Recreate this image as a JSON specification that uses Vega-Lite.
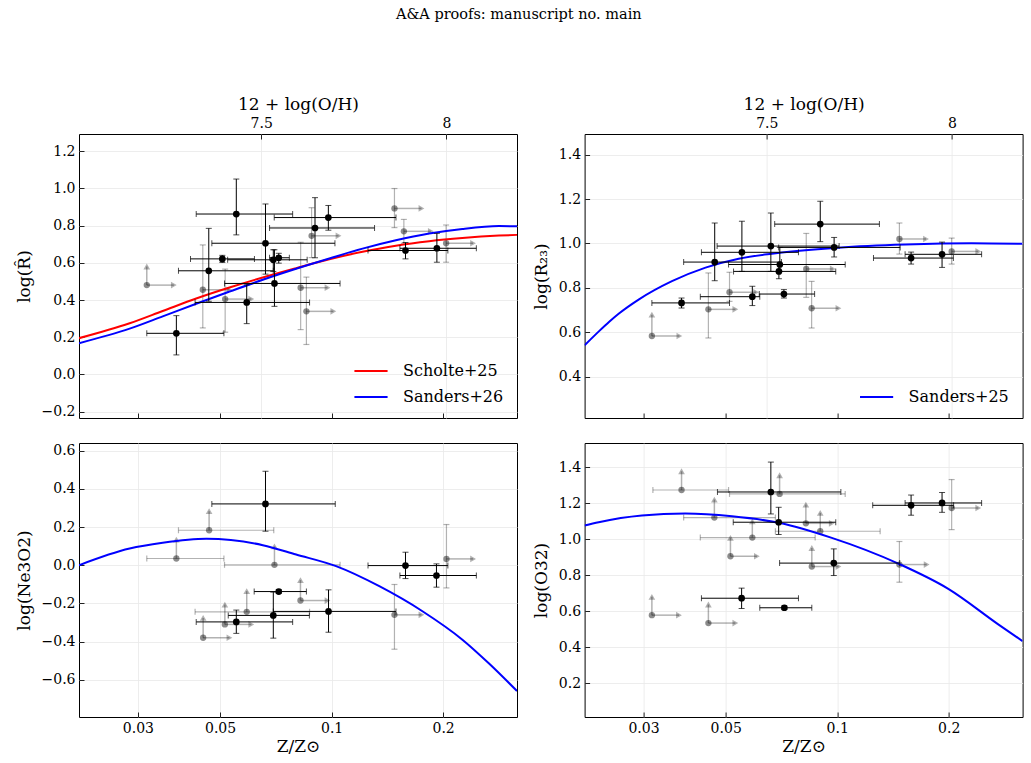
{
  "$schema": "https://vega.github.io/schema/vega-lite/v6.json",
  "background": "white",
  "padding": {"left": 14, "right": 5, "top": 7, "bottom": 5},
  "title": {"text": "A&A proofs: manuscript no. main", "font": "DejaVu Serif", "fontSize": 14.5, "fontWeight": "normal", "anchor": "middle", "offset": 72, "color": "#000"},
  "datasets": {
    "pts": [
      {"p":"R","t":"d","z":0.0553,"v":0.862,"zlo":0.0431,"zhi":0.0785,"vlo":0.750,"vhi":1.050},
      {"p":"R","t":"d","z":0.0663,"v":0.705,"zlo":0.0475,"zhi":0.1021,"vlo":0.539,"vhi":0.916},
      {"p":"R","t":"d","z":0.0902,"v":0.787,"zlo":0.0680,"zhi":0.1306,"vlo":0.627,"vhi":0.950},
      {"p":"R","t":"d","z":0.0980,"v":0.843,"zlo":0.0700,"zhi":0.1492,"vlo":0.775,"vhi":0.908},
      {"p":"R","t":"d","z":0.0507,"v":0.621,"zlo":0.0416,"zhi":0.0619,"vlo":0.602,"vhi":0.640},
      {"p":"R","t":"d","z":0.0696,"v":0.616,"zlo":0.0524,"zhi":0.0859,"vlo":0.553,"vhi":0.670},
      {"p":"R","t":"d","z":0.0720,"v":0.627,"zlo":0.0680,"zhi":0.0769,"vlo":0.598,"vhi":0.651},
      {"p":"R","t":"d","z":0.0466,"v":0.557,"zlo":0.0386,"zhi":0.0696,"vlo":0.393,"vhi":0.785},
      {"p":"R","t":"d","z":0.0701,"v":0.489,"zlo":0.0514,"zhi":0.1054,"vlo":0.366,"vhi":0.670},
      {"p":"R","t":"d","z":0.0590,"v":0.387,"zlo":0.0428,"zhi":0.0872,"vlo":0.273,"vhi":0.482},
      {"p":"R","t":"d","z":0.0381,"v":0.221,"zlo":0.0317,"zhi":0.0512,"vlo":0.105,"vhi":0.316},
      {"p":"R","t":"d","z":0.1583,"v":0.666,"zlo":0.1254,"zhi":0.2060,"vlo":0.621,"vhi":0.709},
      {"p":"R","t":"d","z":0.1924,"v":0.678,"zlo":0.1529,"zhi":0.2459,"vlo":0.603,"vhi":0.758},
      {"p":"R","t":"l","z":0.0317,"v":0.480,"za":0.0375,"va":0.580},
      {"p":"R","t":"l","z":0.0449,"v":0.455,"vlo":0.250,"vhi":0.696,"za":0.0530},
      {"p":"R","t":"l","z":0.0516,"v":0.405,"vlo":0.227,"vhi":0.566,"za":0.0607},
      {"p":"R","t":"l","z":0.0825,"v":0.466,"vlo":0.241,"vhi":0.710,"za":0.0975},
      {"p":"R","t":"l","z":0.0855,"v":0.339,"vlo":0.161,"vhi":0.523,"za":0.1011},
      {"p":"R","t":"l","z":0.0883,"v":0.745,"vlo":0.628,"vhi":0.896,"za":0.1044},
      {"p":"R","t":"l","z":0.1478,"v":0.892,"vlo":0.789,"vhi":0.999,"za":0.1748},
      {"p":"R","t":"l","z":0.1567,"v":0.769,"vlo":0.705,"vhi":0.833,"za":0.1853},
      {"p":"R","t":"l","z":0.2038,"v":0.705,"vlo":0.603,"vhi":0.803,"za":0.2410},

      {"p":"R23","t":"d","z":0.0380,"v":0.732,"zlo":0.0316,"zhi":0.0512,"vlo":0.709,"vhi":0.754},
      {"p":"R23","t":"d","z":0.0467,"v":0.916,"zlo":0.0385,"zhi":0.0707,"vlo":0.832,"vhi":1.092},
      {"p":"R23","t":"d","z":0.0553,"v":0.960,"zlo":0.0430,"zhi":0.0786,"vlo":0.874,"vhi":1.100},
      {"p":"R23","t":"d","z":0.0662,"v":0.988,"zlo":0.0474,"zhi":0.1012,"vlo":0.874,"vhi":1.137},
      {"p":"R23","t":"d","z":0.0900,"v":1.087,"zlo":0.0678,"zhi":0.1300,"vlo":1.008,"vhi":1.190},
      {"p":"R23","t":"d","z":0.0981,"v":0.982,"zlo":0.0695,"zhi":0.1479,"vlo":0.939,"vhi":1.027},
      {"p":"R23","t":"d","z":0.0700,"v":0.905,"zlo":0.0509,"zhi":0.1051,"vlo":0.874,"vhi":0.982},
      {"p":"R23","t":"d","z":0.0696,"v":0.874,"zlo":0.0525,"zhi":0.0991,"vlo":0.841,"vhi":0.905},
      {"p":"R23","t":"d","z":0.0590,"v":0.760,"zlo":0.0427,"zhi":0.0618,"vlo":0.720,"vhi":0.807},
      {"p":"R23","t":"d","z":0.0718,"v":0.772,"zlo":0.0616,"zhi":0.0869,"vlo":0.754,"vhi":0.792},
      {"p":"R23","t":"d","z":0.1583,"v":0.934,"zlo":0.1253,"zhi":0.2059,"vlo":0.907,"vhi":0.961},
      {"p":"R23","t":"d","z":0.1919,"v":0.951,"zlo":0.1525,"zhi":0.2454,"vlo":0.892,"vhi":1.006},
      {"p":"R23","t":"l","z":0.0316,"v":0.583,"za":0.0375,"va":0.679},
      {"p":"R23","t":"l","z":0.0449,"v":0.703,"vlo":0.574,"vhi":0.867,"za":0.0531},
      {"p":"R23","t":"l","z":0.0512,"v":0.780,"vlo":0.739,"vhi":0.870,"za":0.0604},
      {"p":"R23","t":"l","z":0.0825,"v":0.885,"vlo":0.757,"vhi":1.045,"za":0.0973},
      {"p":"R23","t":"l","z":0.0853,"v":0.708,"vlo":0.619,"vhi":0.829,"za":0.1008},
      {"p":"R23","t":"l","z":0.1472,"v":1.020,"vlo":0.952,"vhi":1.092,"za":0.1737},
      {"p":"R23","t":"l","z":0.2037,"v":0.964,"vlo":0.907,"vhi":1.024,"za":0.2404},

      {"p":"Ne","t":"d","z":0.0663,"v":0.321,"zlo":0.0475,"zhi":0.1023,"vlo":0.178,"vhi":0.492},
      {"p":"Ne","t":"d","z":0.1583,"v":-0.002,"zlo":0.1254,"zhi":0.2060,"vlo":-0.070,"vhi":0.068},
      {"p":"Ne","t":"d","z":0.1919,"v":-0.054,"zlo":0.1529,"zhi":0.2459,"vlo":-0.115,"vhi":0.007},
      {"p":"Ne","t":"d","z":0.0720,"v":-0.138,"zlo":0.0618,"zhi":0.0855,"vlo":-0.148,"vhi":-0.128},
      {"p":"Ne","t":"d","z":0.0981,"v":-0.242,"zlo":0.0696,"zhi":0.1492,"vlo":-0.351,"vhi":-0.129},
      {"p":"Ne","t":"d","z":0.0696,"v":-0.263,"zlo":0.0526,"zhi":0.0871,"vlo":-0.382,"vhi":-0.141},
      {"p":"Ne","t":"d","z":0.0553,"v":-0.297,"zlo":0.0431,"zhi":0.0785,"vlo":-0.357,"vhi":-0.235},
      {"p":"Ne","t":"l","z":0.0467,"v":0.183,"zlo":0.0386,"zhi":0.0698,"va":0.283},
      {"p":"Ne","t":"l","z":0.0381,"v":0.035,"zlo":0.0317,"zhi":0.0512,"va":0.134},
      {"p":"Ne","t":"l","z":0.0701,"v":0.002,"zlo":0.0514,"zhi":0.1054,"va":0.099},
      {"p":"Ne","t":"l","z":0.0824,"v":-0.185,"za":0.0975,"va":-0.078},
      {"p":"Ne","t":"l","z":0.0590,"v":-0.244,"zlo":0.0428,"zhi":0.0872,"va":-0.136},
      {"p":"Ne","t":"l","z":0.0515,"v":-0.310,"za":0.0607,"va":-0.206},
      {"p":"Ne","t":"l","z":0.0450,"v":-0.380,"za":0.0530,"va":-0.276},
      {"p":"Ne","t":"l","z":0.1478,"v":-0.260,"vlo":-0.440,"vhi":-0.101,"za":0.1748},
      {"p":"Ne","t":"l","z":0.2042,"v":0.033,"vlo":-0.119,"vhi":0.213,"za":0.2410},

      {"p":"O32","t":"d","z":0.0662,"v":1.263,"zlo":0.0475,"zhi":0.1023,"vlo":1.141,"vhi":1.429},
      {"p":"O32","t":"d","z":0.0695,"v":1.095,"zlo":0.0524,"zhi":0.0991,"vlo":1.027,"vhi":1.178},
      {"p":"O32","t":"d","z":0.0979,"v":0.868,"zlo":0.0699,"zhi":0.1475,"vlo":0.799,"vhi":0.947},
      {"p":"O32","t":"d","z":0.1583,"v":1.189,"zlo":0.1247,"zhi":0.2062,"vlo":1.134,"vhi":1.246},
      {"p":"O32","t":"d","z":0.1919,"v":1.202,"zlo":0.1525,"zhi":0.2454,"vlo":1.150,"vhi":1.260},
      {"p":"O32","t":"d","z":0.0552,"v":0.673,"zlo":0.0430,"zhi":0.0786,"vlo":0.616,"vhi":0.729},
      {"p":"O32","t":"d","z":0.0720,"v":0.620,"zlo":0.0618,"zhi":0.0854,"vlo":0.610,"vhi":0.630},
      {"p":"O32","t":"l","z":0.0380,"v":1.274,"zlo":0.0318,"zhi":0.0509,"va":1.378},
      {"p":"O32","t":"l","z":0.0699,"v":1.252,"zlo":0.0512,"zhi":0.1051,"va":1.356},
      {"p":"O32","t":"l","z":0.0466,"v":1.121,"zlo":0.0385,"zhi":0.0681,"va":1.221},
      {"p":"O32","t":"l","z":0.0590,"v":1.010,"zlo":0.0427,"zhi":0.0872,"va":1.100},
      {"p":"O32","t":"l","z":0.0515,"v":0.906,"za":0.0607,"va":1.008},
      {"p":"O32","t":"l","z":0.0823,"v":1.089,"za":0.0967,"va":1.193},
      {"p":"O32","t":"l","z":0.0900,"v":1.045,"zlo":0.0681,"zhi":0.1306,"va":1.147},
      {"p":"O32","t":"l","z":0.0854,"v":0.849,"za":0.1008,"va":0.952},
      {"p":"O32","t":"l","z":0.1472,"v":0.860,"vlo":0.762,"vhi":0.988,"za":0.1744},
      {"p":"O32","t":"l","z":0.2037,"v":1.174,"vlo":1.054,"vhi":1.332,"za":0.2404},
      {"p":"O32","t":"l","z":0.0316,"v":0.579,"za":0.0374,"va":0.681},
      {"p":"O32","t":"l","z":0.0449,"v":0.535,"za":0.0531,"va":0.638}
    ],
    "curves": [
      {"p":"R","m":"Scholte+25","z":0.0208,"v":0.195},
      {"p":"R","m":"Scholte+25","z":0.0285,"v":0.275},
      {"p":"R","m":"Scholte+25","z":0.0350,"v":0.341},
      {"p":"R","m":"Scholte+25","z":0.0431,"v":0.408},
      {"p":"R","m":"Scholte+25","z":0.0530,"v":0.467},
      {"p":"R","m":"Scholte+25","z":0.0652,"v":0.521},
      {"p":"R","m":"Scholte+25","z":0.0802,"v":0.571},
      {"p":"R","m":"Scholte+25","z":0.0986,"v":0.619},
      {"p":"R","m":"Scholte+25","z":0.1212,"v":0.659},
      {"p":"R","m":"Scholte+25","z":0.1491,"v":0.692},
      {"p":"R","m":"Scholte+25","z":0.1834,"v":0.716},
      {"p":"R","m":"Scholte+25","z":0.2254,"v":0.733},
      {"p":"R","m":"Scholte+25","z":0.2831,"v":0.746},
      {"p":"R","m":"Scholte+25","z":0.3166,"v":0.750},
      {"p":"R","m":"Sanders+26","z":0.0208,"v":0.168},
      {"p":"R","m":"Sanders+26","z":0.0285,"v":0.246},
      {"p":"R","m":"Sanders+26","z":0.0350,"v":0.312},
      {"p":"R","m":"Sanders+26","z":0.0431,"v":0.380},
      {"p":"R","m":"Sanders+26","z":0.0530,"v":0.445},
      {"p":"R","m":"Sanders+26","z":0.0652,"v":0.509},
      {"p":"R","m":"Sanders+26","z":0.0802,"v":0.568},
      {"p":"R","m":"Sanders+26","z":0.0986,"v":0.623},
      {"p":"R","m":"Sanders+26","z":0.1212,"v":0.676},
      {"p":"R","m":"Sanders+26","z":0.1491,"v":0.721},
      {"p":"R","m":"Sanders+26","z":0.1834,"v":0.757},
      {"p":"R","m":"Sanders+26","z":0.2254,"v":0.782},
      {"p":"R","m":"Sanders+26","z":0.2831,"v":0.797},
      {"p":"R","m":"Sanders+26","z":0.3166,"v":0.796},
      {"p":"R23","m":"Sanders+25","z":0.0208,"v":0.541},
      {"p":"R23","m":"Sanders+25","z":0.0228,"v":0.606},
      {"p":"R23","m":"Sanders+25","z":0.0242,"v":0.646},
      {"p":"R23","m":"Sanders+25","z":0.0257,"v":0.683},
      {"p":"R23","m":"Sanders+25","z":0.0291,"v":0.747},
      {"p":"R23","m":"Sanders+25","z":0.0358,"v":0.830},
      {"p":"R23","m":"Sanders+25","z":0.0441,"v":0.891},
      {"p":"R23","m":"Sanders+25","z":0.0542,"v":0.931},
      {"p":"R23","m":"Sanders+25","z":0.0666,"v":0.954},
      {"p":"R23","m":"Sanders+25","z":0.1008,"v":0.981},
      {"p":"R23","m":"Sanders+25","z":0.1525,"v":0.995},
      {"p":"R23","m":"Sanders+25","z":0.2305,"v":1.001},
      {"p":"R23","m":"Sanders+25","z":0.3166,"v":0.998},
      {"p":"Ne","m":"Sanders+26","z":0.0208,"v":0.000},
      {"p":"Ne","m":"Sanders+26","z":0.0285,"v":0.087},
      {"p":"Ne","m":"Sanders+26","z":0.0350,"v":0.117},
      {"p":"Ne","m":"Sanders+26","z":0.0459,"v":0.138},
      {"p":"Ne","m":"Sanders+26","z":0.0652,"v":0.105},
      {"p":"Ne","m":"Sanders+26","z":0.0802,"v":0.056},
      {"p":"Ne","m":"Sanders+26","z":0.1028,"v":-0.005},
      {"p":"Ne","m":"Sanders+26","z":0.1345,"v":-0.110},
      {"p":"Ne","m":"Sanders+26","z":0.1759,"v":-0.241},
      {"p":"Ne","m":"Sanders+26","z":0.2255,"v":-0.390},
      {"p":"Ne","m":"Sanders+26","z":0.2661,"v":-0.515},
      {"p":"Ne","m":"Sanders+26","z":0.3166,"v":-0.659},
      {"p":"O32","m":"Sanders+26","z":0.0208,"v":1.077},
      {"p":"O32","m":"Sanders+26","z":0.0227,"v":1.095},
      {"p":"O32","m":"Sanders+26","z":0.0297,"v":1.132},
      {"p":"O32","m":"Sanders+26","z":0.0389,"v":1.143},
      {"p":"O32","m":"Sanders+26","z":0.0520,"v":1.128},
      {"p":"O32","m":"Sanders+26","z":0.0695,"v":1.092},
      {"p":"O32","m":"Sanders+26","z":0.0967,"v":1.008},
      {"p":"O32","m":"Sanders+26","z":0.1463,"v":0.865},
      {"p":"O32","m":"Sanders+26","z":0.1995,"v":0.725},
      {"p":"O32","m":"Sanders+26","z":0.2721,"v":0.528},
      {"p":"O32","m":"Sanders+26","z":0.3166,"v":0.435}
    ]
  },
  "columns": 2,
  "spacing": {"row": 25, "column": 67.6},
  "bounds": "flush",
  "resolve": {"scale": {"x": "independent", "y": "independent", "color": "independent"}},
  "concat": [
    {
      "width": 438, "height": 284,
      "resolve": {"scale": {"x": "independent"}},
      "layer": [
        {"data": {"values": [{"oh": 7.5}, {"oh": 8}]},
         "mark": {"type": "point", "opacity": 0},
         "encoding": {"x": {"field": "oh", "type": "quantitative", "scale": {"domain": [7.0084, 8.1905], "nice": false, "zero": false}, "axis": {"orient": "top", "values": [7.5, 8], "format": "~g", "title": "12 + log(O/H)", "grid": true, "titlePadding": 3}}}},
        {"data": {"name": "pts"},
         "transform": [{"filter": "datum.p == 'R'"}],
         "layer": [
          {"transform": [{"filter": "datum.t == 'l' && isValid(datum.zlo)"}], "mark": {"type": "errorbar", "ticks": true, "size": 6, "thickness": 1.2, "color": "#000", "opacity": 0.3}, "encoding": {"x": {"field": "zlo", "type": "quantitative"}, "x2": {"field": "zhi"}, "y": {"field": "v", "type": "quantitative", "title": "log(R\u0302)"}}},
          {"transform": [{"filter": "datum.t == 'l' && isValid(datum.vlo)"}], "mark": {"type": "errorbar", "ticks": true, "size": 6, "thickness": 1.2, "color": "#000", "opacity": 0.3}, "encoding": {"x": {"field": "z", "type": "quantitative"}, "y": {"field": "vlo", "type": "quantitative", "title": "log(R\u0302)"}, "y2": {"field": "vhi"}}},
          {"transform": [{"filter": "datum.t == 'l' && isValid(datum.za)"}], "mark": {"type": "rule", "color": "#000", "opacity": 0.3, "strokeWidth": 1.5}, "encoding": {"x": {"field": "z", "type": "quantitative"}, "x2": {"field": "za"}, "y": {"field": "v", "type": "quantitative"}}},
          {"transform": [{"filter": "datum.t == 'l' && isValid(datum.za)"}], "mark": {"type": "point", "shape": "triangle-right", "filled": true, "size": 45, "color": "#000", "opacity": 0.3}, "encoding": {"x": {"field": "za", "type": "quantitative"}, "y": {"field": "v", "type": "quantitative"}}},
          {"transform": [{"filter": "datum.t == 'l' && isValid(datum.va)"}], "mark": {"type": "rule", "color": "#000", "opacity": 0.3, "strokeWidth": 1.5}, "encoding": {"x": {"field": "z", "type": "quantitative"}, "y": {"field": "v", "type": "quantitative"}, "y2": {"field": "va"}}},
          {"transform": [{"filter": "datum.t == 'l' && isValid(datum.va)"}], "mark": {"type": "point", "shape": "triangle-up", "filled": true, "size": 45, "color": "#000", "opacity": 0.3}, "encoding": {"x": {"field": "z", "type": "quantitative"}, "y": {"field": "va", "type": "quantitative"}}},
          {"transform": [{"filter": "datum.t == 'l'"}], "mark": {"type": "point", "shape": "circle", "filled": true, "size": 40, "color": "#000", "opacity": 0.45}, "encoding": {"x": {"field": "z", "type": "quantitative"}, "y": {"field": "v", "type": "quantitative"}}},
          {"data": {"name": "curves"}, "transform": [{"filter": "datum.p == 'R'"}],
           "mark": {"type": "line", "strokeWidth": 2, "clip": true, "interpolate": "monotone"},
           "encoding": {
             "x": {"field": "z", "type": "quantitative", "scale": {"type": "log", "domain": [0.0208, 0.3166], "nice": false}, "axis": {"values": [0.03, 0.05, 0.1, 0.2], "labels": false, "title": null, "grid": false}},
             "y": {"field": "v", "type": "quantitative", "scale": {"domain": [-0.234, 1.292], "nice": false, "zero": false}, "axis": {"values": [-0.2, 0, 0.2, 0.4, 0.6, 0.8, 1.0, 1.2], "format": ".1f", "title": "log(R\u0302)", "grid": true, "titlePadding": 8}},
             "color": {"field": "m", "type": "nominal", "scale": {"domain": ["Scholte+25", "Sanders+26"], "range": ["#ff0000", "#0000ff"]}, "legend": {"orient": "bottom-right", "title": null}}
           }},
          {"transform": [{"filter": "datum.t == 'd'"}], "mark": {"type": "errorbar", "ticks": true, "size": 6, "thickness": 1, "color": "#000"}, "encoding": {"x": {"field": "zlo", "type": "quantitative"}, "x2": {"field": "zhi"}, "y": {"field": "v", "type": "quantitative", "title": "log(R\u0302)"}}},
          {"transform": [{"filter": "datum.t == 'd'"}], "mark": {"type": "errorbar", "ticks": true, "size": 6, "thickness": 1, "color": "#000"}, "encoding": {"x": {"field": "z", "type": "quantitative"}, "y": {"field": "vlo", "type": "quantitative", "title": "log(R\u0302)"}, "y2": {"field": "vhi"}}},
          {"transform": [{"filter": "datum.t == 'd'"}], "mark": {"type": "point", "shape": "circle", "filled": true, "size": 45, "color": "#000", "opacity": 1}, "encoding": {"x": {"field": "z", "type": "quantitative"}, "y": {"field": "v", "type": "quantitative"}}}
         ]}
      ]
    },
    {
      "width": 438, "height": 284,
      "resolve": {"scale": {"x": "independent"}},
      "layer": [
        {"data": {"values": [{"oh": 7.5}, {"oh": 8}]},
         "mark": {"type": "point", "opacity": 0},
         "encoding": {"x": {"field": "oh", "type": "quantitative", "scale": {"domain": [7.0084, 8.1905], "nice": false, "zero": false}, "axis": {"orient": "top", "values": [7.5, 8], "format": "~g", "title": "12 + log(O/H)", "grid": true, "titlePadding": 3}}}},
        {"data": {"name": "pts"},
         "transform": [{"filter": "datum.p == 'R23'"}],
         "layer": [
          {"transform": [{"filter": "datum.t == 'l' && isValid(datum.zlo)"}], "mark": {"type": "errorbar", "ticks": true, "size": 6, "thickness": 1.2, "color": "#000", "opacity": 0.3}, "encoding": {"x": {"field": "zlo", "type": "quantitative"}, "x2": {"field": "zhi"}, "y": {"field": "v", "type": "quantitative", "title": "log(R\u2082\u2083)"}}},
          {"transform": [{"filter": "datum.t == 'l' && isValid(datum.vlo)"}], "mark": {"type": "errorbar", "ticks": true, "size": 6, "thickness": 1.2, "color": "#000", "opacity": 0.3}, "encoding": {"x": {"field": "z", "type": "quantitative"}, "y": {"field": "vlo", "type": "quantitative", "title": "log(R\u2082\u2083)"}, "y2": {"field": "vhi"}}},
          {"transform": [{"filter": "datum.t == 'l' && isValid(datum.za)"}], "mark": {"type": "rule", "color": "#000", "opacity": 0.3, "strokeWidth": 1.5}, "encoding": {"x": {"field": "z", "type": "quantitative"}, "x2": {"field": "za"}, "y": {"field": "v", "type": "quantitative"}}},
          {"transform": [{"filter": "datum.t == 'l' && isValid(datum.za)"}], "mark": {"type": "point", "shape": "triangle-right", "filled": true, "size": 45, "color": "#000", "opacity": 0.3}, "encoding": {"x": {"field": "za", "type": "quantitative"}, "y": {"field": "v", "type": "quantitative"}}},
          {"transform": [{"filter": "datum.t == 'l' && isValid(datum.va)"}], "mark": {"type": "rule", "color": "#000", "opacity": 0.3, "strokeWidth": 1.5}, "encoding": {"x": {"field": "z", "type": "quantitative"}, "y": {"field": "v", "type": "quantitative"}, "y2": {"field": "va"}}},
          {"transform": [{"filter": "datum.t == 'l' && isValid(datum.va)"}], "mark": {"type": "point", "shape": "triangle-up", "filled": true, "size": 45, "color": "#000", "opacity": 0.3}, "encoding": {"x": {"field": "z", "type": "quantitative"}, "y": {"field": "va", "type": "quantitative"}}},
          {"transform": [{"filter": "datum.t == 'l'"}], "mark": {"type": "point", "shape": "circle", "filled": true, "size": 40, "color": "#000", "opacity": 0.45}, "encoding": {"x": {"field": "z", "type": "quantitative"}, "y": {"field": "v", "type": "quantitative"}}},
          {"data": {"name": "curves"}, "transform": [{"filter": "datum.p == 'R23'"}],
           "mark": {"type": "line", "strokeWidth": 2, "clip": true, "interpolate": "monotone"},
           "encoding": {
             "x": {"field": "z", "type": "quantitative", "scale": {"type": "log", "domain": [0.0208, 0.3166], "nice": false}, "axis": {"values": [0.03, 0.05, 0.1, 0.2], "labels": false, "title": null, "grid": false}},
             "y": {"field": "v", "type": "quantitative", "scale": {"domain": [0.2135, 1.493], "nice": false, "zero": false}, "axis": {"values": [0.4, 0.6, 0.8, 1.0, 1.2, 1.4], "format": ".1f", "title": "log(R\u2082\u2083)", "grid": true, "titlePadding": 8}},
             "color": {"field": "m", "type": "nominal", "scale": {"domain": ["Sanders+25"], "range": ["#0000ff"]}, "legend": {"orient": "bottom-right", "title": null}}
           }},
          {"transform": [{"filter": "datum.t == 'd'"}], "mark": {"type": "errorbar", "ticks": true, "size": 6, "thickness": 1, "color": "#000"}, "encoding": {"x": {"field": "zlo", "type": "quantitative"}, "x2": {"field": "zhi"}, "y": {"field": "v", "type": "quantitative", "title": "log(R\u2082\u2083)"}}},
          {"transform": [{"filter": "datum.t == 'd'"}], "mark": {"type": "errorbar", "ticks": true, "size": 6, "thickness": 1, "color": "#000"}, "encoding": {"x": {"field": "z", "type": "quantitative"}, "y": {"field": "vlo", "type": "quantitative", "title": "log(R\u2082\u2083)"}, "y2": {"field": "vhi"}}},
          {"transform": [{"filter": "datum.t == 'd'"}], "mark": {"type": "point", "shape": "circle", "filled": true, "size": 45, "color": "#000", "opacity": 1}, "encoding": {"x": {"field": "z", "type": "quantitative"}, "y": {"field": "v", "type": "quantitative"}}}
         ]}
      ]
    },
    {
      "width": 438, "height": 274,
      "data": {"name": "pts"},
      "transform": [{"filter": "datum.p == 'Ne'"}],
      "layer": [
        {"transform": [{"filter": "datum.t == 'l' && isValid(datum.zlo)"}], "mark": {"type": "errorbar", "ticks": true, "size": 6, "thickness": 1.2, "color": "#000", "opacity": 0.3}, "encoding": {"x": {"field": "zlo", "type": "quantitative", "title": "Z/Z\u2299"}, "x2": {"field": "zhi"}, "y": {"field": "v", "type": "quantitative", "title": "log(Ne3O2)"}}},
        {"transform": [{"filter": "datum.t == 'l' && isValid(datum.vlo)"}], "mark": {"type": "errorbar", "ticks": true, "size": 6, "thickness": 1.2, "color": "#000", "opacity": 0.3}, "encoding": {"x": {"field": "z", "type": "quantitative", "title": "Z/Z\u2299"}, "y": {"field": "vlo", "type": "quantitative", "title": "log(Ne3O2)"}, "y2": {"field": "vhi"}}},
        {"transform": [{"filter": "datum.t == 'l' && isValid(datum.za)"}], "mark": {"type": "rule", "color": "#000", "opacity": 0.3, "strokeWidth": 1.5}, "encoding": {"x": {"field": "z", "type": "quantitative"}, "x2": {"field": "za"}, "y": {"field": "v", "type": "quantitative"}}},
        {"transform": [{"filter": "datum.t == 'l' && isValid(datum.za)"}], "mark": {"type": "point", "shape": "triangle-right", "filled": true, "size": 45, "color": "#000", "opacity": 0.3}, "encoding": {"x": {"field": "za", "type": "quantitative"}, "y": {"field": "v", "type": "quantitative"}}},
        {"transform": [{"filter": "datum.t == 'l' && isValid(datum.va)"}], "mark": {"type": "rule", "color": "#000", "opacity": 0.3, "strokeWidth": 1.5}, "encoding": {"x": {"field": "z", "type": "quantitative"}, "y": {"field": "v", "type": "quantitative"}, "y2": {"field": "va"}}},
        {"transform": [{"filter": "datum.t == 'l' && isValid(datum.va)"}], "mark": {"type": "point", "shape": "triangle-up", "filled": true, "size": 45, "color": "#000", "opacity": 0.3}, "encoding": {"x": {"field": "z", "type": "quantitative"}, "y": {"field": "va", "type": "quantitative"}}},
        {"transform": [{"filter": "datum.t == 'l'"}], "mark": {"type": "point", "shape": "circle", "filled": true, "size": 40, "color": "#000", "opacity": 0.45}, "encoding": {"x": {"field": "z", "type": "quantitative"}, "y": {"field": "v", "type": "quantitative"}}},
        {"data": {"name": "curves"}, "transform": [{"filter": "datum.p == 'Ne'"}],
         "mark": {"type": "line", "strokeWidth": 2, "clip": true, "interpolate": "monotone", "color": "#0000ff"},
         "encoding": {
           "x": {"field": "z", "type": "quantitative", "scale": {"type": "log", "domain": [0.0208, 0.3166], "nice": false}, "axis": {"values": [0.03, 0.05, 0.1, 0.2], "format": "~g", "title": "Z/Z\u2299", "grid": true, "titlePadding": 3}},
           "y": {"field": "v", "type": "quantitative", "scale": {"domain": [-0.795, 0.64], "nice": false, "zero": false}, "axis": {"values": [-0.6, -0.4, -0.2, 0, 0.2, 0.4, 0.6], "format": ".1f", "title": "log(Ne3O2)", "grid": true, "titlePadding": 8}}
         }},
        {"transform": [{"filter": "datum.t == 'd'"}], "mark": {"type": "errorbar", "ticks": true, "size": 6, "thickness": 1, "color": "#000"}, "encoding": {"x": {"field": "zlo", "type": "quantitative", "title": "Z/Z\u2299"}, "x2": {"field": "zhi"}, "y": {"field": "v", "type": "quantitative", "title": "log(Ne3O2)"}}},
        {"transform": [{"filter": "datum.t == 'd'"}], "mark": {"type": "errorbar", "ticks": true, "size": 6, "thickness": 1, "color": "#000"}, "encoding": {"x": {"field": "z", "type": "quantitative", "title": "Z/Z\u2299"}, "y": {"field": "vlo", "type": "quantitative", "title": "log(Ne3O2)"}, "y2": {"field": "vhi"}}},
        {"transform": [{"filter": "datum.t == 'd'"}], "mark": {"type": "point", "shape": "circle", "filled": true, "size": 45, "color": "#000", "opacity": 1}, "encoding": {"x": {"field": "z", "type": "quantitative"}, "y": {"field": "v", "type": "quantitative"}}}
      ]
    },
    {
      "width": 438, "height": 274,
      "data": {"name": "pts"},
      "transform": [{"filter": "datum.p == 'O32'"}],
      "layer": [
        {"transform": [{"filter": "datum.t == 'l' && isValid(datum.zlo)"}], "mark": {"type": "errorbar", "ticks": true, "size": 6, "thickness": 1.2, "color": "#000", "opacity": 0.3}, "encoding": {"x": {"field": "zlo", "type": "quantitative", "title": "Z/Z\u2299"}, "x2": {"field": "zhi"}, "y": {"field": "v", "type": "quantitative", "title": "log(O32)"}}},
        {"transform": [{"filter": "datum.t == 'l' && isValid(datum.vlo)"}], "mark": {"type": "errorbar", "ticks": true, "size": 6, "thickness": 1.2, "color": "#000", "opacity": 0.3}, "encoding": {"x": {"field": "z", "type": "quantitative", "title": "Z/Z\u2299"}, "y": {"field": "vlo", "type": "quantitative", "title": "log(O32)"}, "y2": {"field": "vhi"}}},
        {"transform": [{"filter": "datum.t == 'l' && isValid(datum.za)"}], "mark": {"type": "rule", "color": "#000", "opacity": 0.3, "strokeWidth": 1.5}, "encoding": {"x": {"field": "z", "type": "quantitative"}, "x2": {"field": "za"}, "y": {"field": "v", "type": "quantitative"}}},
        {"transform": [{"filter": "datum.t == 'l' && isValid(datum.za)"}], "mark": {"type": "point", "shape": "triangle-right", "filled": true, "size": 45, "color": "#000", "opacity": 0.3}, "encoding": {"x": {"field": "za", "type": "quantitative"}, "y": {"field": "v", "type": "quantitative"}}},
        {"transform": [{"filter": "datum.t == 'l' && isValid(datum.va)"}], "mark": {"type": "rule", "color": "#000", "opacity": 0.3, "strokeWidth": 1.5}, "encoding": {"x": {"field": "z", "type": "quantitative"}, "y": {"field": "v", "type": "quantitative"}, "y2": {"field": "va"}}},
        {"transform": [{"filter": "datum.t == 'l' && isValid(datum.va)"}], "mark": {"type": "point", "shape": "triangle-up", "filled": true, "size": 45, "color": "#000", "opacity": 0.3}, "encoding": {"x": {"field": "z", "type": "quantitative"}, "y": {"field": "va", "type": "quantitative"}}},
        {"transform": [{"filter": "datum.t == 'l'"}], "mark": {"type": "point", "shape": "circle", "filled": true, "size": 40, "color": "#000", "opacity": 0.45}, "encoding": {"x": {"field": "z", "type": "quantitative"}, "y": {"field": "v", "type": "quantitative"}}},
        {"data": {"name": "curves"}, "transform": [{"filter": "datum.p == 'O32'"}],
         "mark": {"type": "line", "strokeWidth": 2, "clip": true, "interpolate": "monotone", "color": "#0000ff"},
         "encoding": {
           "x": {"field": "z", "type": "quantitative", "scale": {"type": "log", "domain": [0.0208, 0.3166], "nice": false}, "axis": {"values": [0.03, 0.05, 0.1, 0.2], "format": "~g", "title": "Z/Z\u2299", "grid": true, "titlePadding": 3}},
           "y": {"field": "v", "type": "quantitative", "scale": {"domain": [0.0134, 1.535], "nice": false, "zero": false}, "axis": {"values": [0.2, 0.4, 0.6, 0.8, 1.0, 1.2, 1.4], "format": ".1f", "title": "log(O32)", "grid": true, "titlePadding": 8}}
         }},
        {"transform": [{"filter": "datum.t == 'd'"}], "mark": {"type": "errorbar", "ticks": true, "size": 6, "thickness": 1, "color": "#000"}, "encoding": {"x": {"field": "zlo", "type": "quantitative", "title": "Z/Z\u2299"}, "x2": {"field": "zhi"}, "y": {"field": "v", "type": "quantitative", "title": "log(O32)"}}},
        {"transform": [{"filter": "datum.t == 'd'"}], "mark": {"type": "errorbar", "ticks": true, "size": 6, "thickness": 1, "color": "#000"}, "encoding": {"x": {"field": "z", "type": "quantitative", "title": "Z/Z\u2299"}, "y": {"field": "vlo", "type": "quantitative", "title": "log(O32)"}, "y2": {"field": "vhi"}}},
        {"transform": [{"filter": "datum.t == 'd'"}], "mark": {"type": "point", "shape": "circle", "filled": true, "size": 45, "color": "#000", "opacity": 1}, "encoding": {"x": {"field": "z", "type": "quantitative"}, "y": {"field": "v", "type": "quantitative"}}}
      ]
    }
  ],
  "config": {
    "font": "DejaVu Serif",
    "view": {"stroke": "#000", "strokeWidth": 1},
    "axis": {"labelFont": "DejaVu Serif", "labelFontSize": 14, "labelColor": "#000", "titleFont": "DejaVu Serif", "titleFontSize": 17, "titleFontWeight": "normal", "titleColor": "#000", "domain": false, "tickSize": -5, "tickColor": "#222", "labelPadding": 9, "gridColor": "#e8e8e8", "gridWidth": 0.8, "labelFlush": false, "labelOverlap": false},
    "legend": {"labelFont": "DejaVu Serif", "labelFontSize": 16, "labelColor": "#000", "symbolType": "stroke", "symbolSize": 1100, "symbolStrokeWidth": 2, "offset": 13, "rowPadding": -8, "labelOffset": 14}
  }
}
